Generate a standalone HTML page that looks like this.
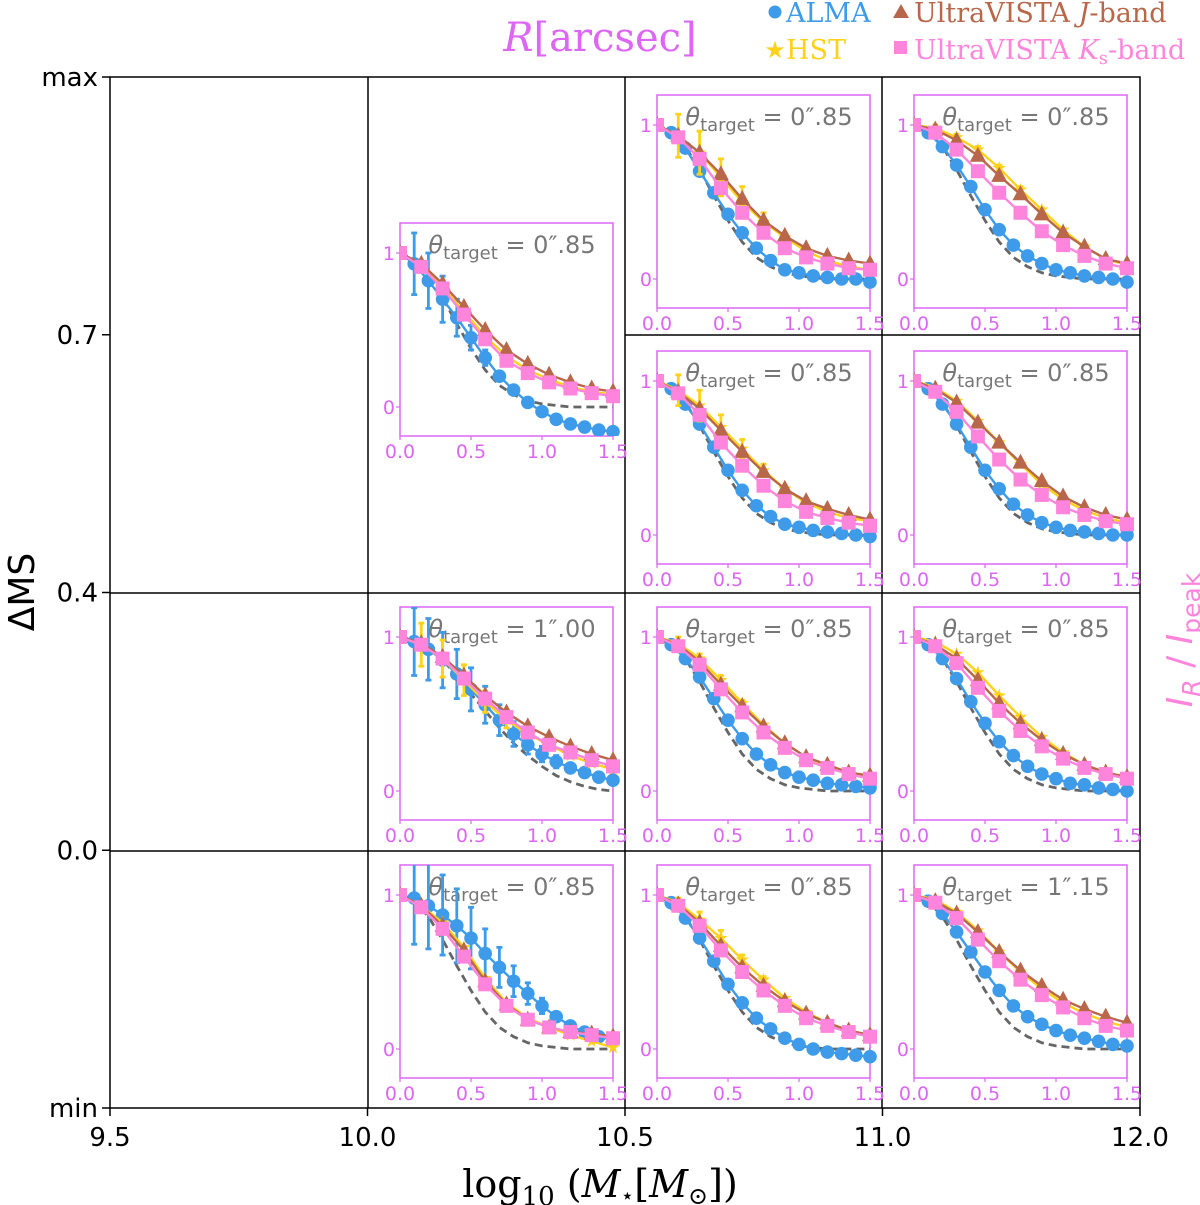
<!DOCTYPE html>
<html><head><meta charset="utf-8"><style>
html,body{margin:0;padding:0;background:#fff;}
svg{display:block;font-family:"DejaVu Sans","Liberation Sans",sans-serif;}
</style></head><body>
<svg id="chart" width="1200" height="1205" viewBox="0 0 1200 1205" xmlns="http://www.w3.org/2000/svg">
<g id="frame" stroke="#000" stroke-width="1.5" fill="none">
<rect x="110" y="77" width="1030" height="1031"/>
<line x1="368" y1="77" x2="368" y2="1108"/>
<line x1="625" y1="77" x2="625" y2="1108"/>
<line x1="882" y1="77" x2="882" y2="1108"/>
<line x1="625" y1="335" x2="1140" y2="335"/>
<line x1="110" y1="593" x2="1140" y2="593"/>
<line x1="110" y1="851" x2="1140" y2="851"/>
</g>
<g id="axes"></g>
<g id="insets"></g>
<text x="600" y="51" text-anchor="middle" font-family="DejaVu Serif, serif" font-size="40" fill="#dd66f5"><tspan font-style="italic">R</tspan>[arcsec]</text>
<g font-family="DejaVu Serif, serif" font-size="27">
<g><circle cx="775" cy="12" r="6.5" fill="#3d9be9"/><text x="786" y="22" fill="#3d9be9">ALMA</text></g>
<g><text x="775" y="58" text-anchor="middle" font-size="24" fill="#ffd21a">★</text><text x="786" y="59" fill="#ffd21a">HST</text></g>
<g><polygon points="901,4 909,18 893,18" fill="#b8674a"/><text x="914" y="22" fill="#b8674a">UltraVISTA <tspan font-style="italic">J</tspan>-band</text></g>
<g><rect x="894" y="41" width="13" height="13" fill="#ff85dc"/><text x="914" y="59" fill="#ff85dc">UltraVISTA <tspan font-style="italic">K</tspan><tspan font-size="18" dy="5">s</tspan><tspan dy="-5">-band</tspan></text></g>
</g>
<text transform="translate(34,592) rotate(-90)" text-anchor="middle" font-size="36" fill="#000">ΔMS</text>
<text x="600" y="1197" text-anchor="middle" font-family="DejaVu Serif, serif" font-size="38" fill="#000">log<tspan font-size="26" dy="8">10</tspan><tspan dy="-8"> (</tspan><tspan font-style="italic">M</tspan><tspan font-size="22" dy="6">⋆</tspan><tspan dy="-6">[</tspan><tspan font-style="italic">M</tspan><tspan font-size="24" dy="7">⊙</tspan><tspan dy="-7">])</tspan></text>
<text transform="translate(1192,640) rotate(-90)" text-anchor="middle" font-size="36" fill="#ff85dc"><tspan font-style="italic">I</tspan><tspan font-style="italic" font-size="25" dy="8">R</tspan><tspan dy="-8"> / </tspan><tspan font-style="italic">I</tspan><tspan font-size="25" dy="8">peak</tspan></text>
</svg>
<script>
var mainXTicks = ["9.5","10.0","10.5","11.0","12.0"];
var mainYTicks = ["max","0.7","0.4","0.0","min"];
var rAlma = [0,0.1,0.2,0.3,0.4,0.5,0.6,0.7,0.8,0.9,1.0,1.1,1.2,1.3,1.4,1.5];
var rOpt = [0,0.15,0.3,0.45,0.6,0.75,0.9,1.05,1.2,1.35,1.5];
var psf085 = [1,.96,.86,.71,.54,.38,.24,.14,.08,.04,.02,.01,0,0,0,0];
var psf100 = [1,.98,.93,.85,.75,.63,.52,.41,.31,.23,.16,.1,.06,.03,.01,0];
var panelLabels = ["0″.85","0″.85","0″.85","0″.85","0″.85","1″.00","0″.85","0″.85","0″.85","0″.85","1″.15"];
var panelLeft = [657,914,400,657,914,400,657,914,400,657,914];
var panelTop = [95,95,223,351,351,607,607,607,865,865,865];
var almaVals = [
[1,.95,.85,.70,.56,.42,.30,.20,.12,.06,.04,.02,.01,0,0,-.02],
[1,.95,.86,.74,.60,.45,.32,.22,.15,.10,.06,.04,.02,.01,0,-.02],
[1,.93,.82,.70,.58,.45,.32,.20,.11,.03,-.03,-.08,-.11,-.13,-.15,-.16],
[1,.95,.85,.72,.57,.42,.29,.19,.12,.07,.05,.03,.02,.01,0,-.01],
[1,.95,.85,.72,.57,.42,.30,.20,.13,.08,.05,.03,.02,.01,0,0],
[1,.97,.92,.85,.76,.66,.56,.46,.37,.30,.24,.19,.15,.12,.09,.07],
[1,.95,.86,.74,.60,.46,.34,.24,.17,.12,.09,.07,.05,.04,.03,.02],
[1,.95,.86,.73,.58,.44,.32,.23,.16,.11,.08,.05,.04,.02,.01,0],
[1,.98,.93,.87,.80,.72,.62,.53,.44,.36,.28,.21,.15,.11,.08,.06],
[1,.95,.85,.72,.57,.42,.30,.20,.13,.07,.03,0,-.02,-.03,-.04,-.05],
[1,.96,.88,.76,.63,.50,.38,.28,.21,.16,.12,.09,.07,.05,.03,.02]];
var almaErr = [null,null,
[0,.2,.18,.15,.12,.08,.05,.03,0,0,0,0,0,0,0,0],null,null,
[0,.22,.2,.18,.16,.14,.12,.1,.08,.06,.05,.04,0,0,0,0],null,null,
[0,.3,.28,.26,.24,.2,.16,.13,.1,.07,.05,.03,0,0,0,0],null,null];
var hstVals = [
[1,.93,.82,.66,.50,.37,.27,.18,.12,.08,.06],
[1,.98,.92,.84,.72,.58,.45,.32,.21,.13,.09],
[1,.92,.78,.62,.46,.33,.24,.18,.13,.10,.08],
[1,.94,.84,.70,.56,.42,.30,.21,.15,.11,.09],
[1,.96,.87,.74,.60,.46,.33,.23,.16,.11,.08],
[1,.95,.86,.72,.58,.46,.37,.30,.23,.18,.14],
[1,.96,.86,.72,.57,.43,.31,.22,.16,.12,.09],
[1,.97,.89,.77,.62,.48,.35,.25,.17,.12,.09],
[1,.93,.82,.66,.46,.30,.20,.14,.09,.05,.01],
[1,.95,.84,.72,.58,.45,.33,.24,.17,.12,.09],
[1,.97,.89,.77,.63,.50,.39,.30,.23,.18,.14]];
var hstErr = [[0,.14,.14,.12,.1,.06,.03,0,0,0,0],[0,.02,.02,.02,.02,.02,.01,0,0,0,0],null,[0,.1,.1,.08,.06,.04,.02,0,0,0,0],null,[0,.14,.12,.1,.07,.05,0,0,0,0,0],[0,.04,.03,.03,.02,0,0,0,0,0,0],null,null,[0,.03,.05,.05,.03,.02,0,0,0,0,0],null];
var jVals = [
[1,.93,.82,.68,.52,.38,.28,.20,.15,.12,.10],
[1,.97,.90,.80,.67,.55,.42,.30,.21,.13,.10],
[1,.93,.80,.65,.50,.37,.28,.21,.16,.12,.10],
[1,.93,.82,.68,.54,.41,.30,.22,.17,.13,.10],
[1,.95,.86,.73,.60,.47,.35,.25,.18,.13,.10],
[1,.96,.87,.75,.62,.51,.42,.35,.29,.24,.20],
[1,.95,.84,.69,.55,.42,.31,.22,.17,.12,.10],
[1,.95,.86,.72,.57,.44,.33,.24,.17,.12,.09],
[1,.93,.80,.64,.44,.29,.19,.14,.11,.10,.08],
[1,.94,.82,.67,.53,.41,.31,.23,.17,.12,.09],
[1,.96,.88,.76,.63,.51,.41,.32,.26,.21,.17]];
var ksVals = [
[1,.92,.78,.59,.43,.30,.20,.14,.10,.07,.06],
[1,.95,.84,.70,.56,.43,.31,.22,.15,.10,.07],
[1,.91,.77,.60,.44,.30,.22,.16,.12,.09,.07],
[1,.92,.78,.60,.45,.32,.22,.15,.11,.08,.06],
[1,.93,.80,.64,.49,.36,.26,.18,.13,.09,.07],
[1,.95,.86,.73,.60,.48,.38,.30,.25,.20,.16],
[1,.94,.82,.66,.51,.38,.28,.20,.15,.11,.08],
[1,.94,.83,.67,.52,.39,.29,.21,.15,.11,.08],
[1,.92,.78,.60,.42,.28,.19,.14,.11,.09,.07],
[1,.93,.80,.64,.50,.38,.28,.20,.15,.11,.08],
[1,.95,.85,.71,.57,.45,.35,.27,.20,.15,.12]];
var psfIndex = [0,0,0,0,0,1,0,0,0,0,0];
var psfs = [psf085, psf100];

var NS="http://www.w3.org/2000/svg";
function mk(tag, attrs, parent){var e=document.createElementNS(NS,tag);for(var k in attrs)e.setAttribute(k,attrs[k]);if(parent)parent.appendChild(e);return e;}
var ax=document.getElementById('axes');
var mx0=110,mx1=1140,my0=77,my1=1108;
function mainX(i){return mx0+(mx1-mx0)*i/(mainXTicks.length-1);}
function mainY(i){return my0+(my1-my0)*i/(mainYTicks.length-1);}
mainXTicks.forEach(function(t,i){
  var g=mk('g',{},ax);
  
  
  var x=mainX(i);
  mk('line',{x1:x,y1:my1,x2:x,y2:my1+8,stroke:'#000','stroke-width':1.5},g);
  var tx=mk('text',{x:x,y:my1+38,'text-anchor':'middle','font-size':26,fill:'#000'},g);tx.textContent=t;
});
mainYTicks.forEach(function(t,i){
  var g=mk('g',{},ax);
  
  
  var y=mainY(i);
  mk('line',{x1:mx0-8,y1:y,x2:mx0,y2:y,stroke:'#000','stroke-width':1.5},g);
  var tx=mk('text',{x:mx0-12,y:y+9,'text-anchor':'end','font-size':26,fill:'#000'},g);tx.textContent=t;
});
var ins=document.getElementById('insets');
var W=213,H=213,VIO='#dd66f5';
function drawSeries(g,xs,ys,err,color,marker,sx,sy,name){
  var s=mk('g',{},g);
  
  
  var d='';
  xs.forEach(function(r,i){d+=(i?'L':'M')+sx(r).toFixed(1)+','+sy(ys[i]).toFixed(1);});
  mk('path',{d:d,fill:'none',stroke:color,'stroke-width':2.4},s);
  if(err){xs.forEach(function(r,i){if(err[i]>0){var x=sx(r),y1=sy(ys[i]-err[i]),y2=sy(ys[i]+err[i]);
    mk('line',{x1:x,y1:y1,x2:x,y2:y2,stroke:color,'stroke-width':2.8},s);
    mk('line',{x1:x-3,y1:y1,x2:x+3,y2:y1,stroke:color,'stroke-width':2.8},s);
    mk('line',{x1:x-3,y1:y2,x2:x+3,y2:y2,stroke:color,'stroke-width':2.8},s);}});}
  xs.forEach(function(r,i){var x=sx(r),y=sy(ys[i]);
    if(marker==='c')mk('circle',{cx:x,cy:y,r:6.8,fill:color},s);
    else if(marker==='s')mk('rect',{x:x-7,y:y-7,width:14,height:14,fill:color},s);
    else if(marker==='t')mk('polygon',{points:(x)+','+(y-9)+' '+(x+8)+','+(y+6)+' '+(x-8)+','+(y+6),fill:color},s);
    else if(marker==='*'){var p='';for(var k=0;k<10;k++){var a=-Math.PI/2+k*Math.PI/5,rr=k%2?2.8:7;p+=(x+rr*Math.cos(a)).toFixed(1)+','+(y+rr*Math.sin(a)).toFixed(1)+' ';}mk('polygon',{points:p,fill:color},s);}
  });
}
panelLeft.forEach(function(L,p){
  var T=panelTop[p];
  var g=mk('g',{},ins);
  
  
  var sx=function(r){return L+r/1.5*W;};
  var sy=function(v){return T+184-v*154;};
  mk('rect',{x:L,y:T,width:W,height:H,fill:'#fff',stroke:VIO,'stroke-width':1.5},g);
  ['0.0','0.5','1.0','1.5'].forEach(function(t,i){
    var x=sx(i*0.5);
    mk('line',{x1:x,y1:T+H,x2:x,y2:T+H+4,stroke:VIO,'stroke-width':1.2},g);
    var tx=mk('text',{x:x,y:T+H+22,'text-anchor':'middle','font-size':19,fill:VIO},g);tx.textContent=t;
  });
  [0,1].forEach(function(v){
    var y=sy(v);
    mk('line',{x1:L-4,y1:y,x2:L,y2:y,stroke:VIO,'stroke-width':1.2},g);
    var tx=mk('text',{x:L-5,y:y+7,'text-anchor':'end','font-size':19,fill:VIO},g);tx.textContent=String(v);
  });
  var lab=mk('text',{x:L+112,y:T+30,'text-anchor':'middle','font-size':24,fill:'#777'},g);
  
  
  lab.innerHTML='<tspan font-style="italic">θ</tspan><tspan font-size="18" dy="6">target</tspan><tspan dy="-6"> = '+panelLabels[p]+'</tspan>';
  var clip=mk('clipPath',{id:'clip'+p},g);mk('rect',{x:L,y:T,width:W+7,height:H},clip);
  var cg=mk('g',{'clip-path':'url(#clip'+p+')'},g);
  var psf=psfs[psfIndex[p]],pd='';
  rAlma.forEach(function(r,i){pd+=(i?'L':'M')+sx(r).toFixed(1)+','+sy(psf[i]).toFixed(1);});
  var pp=mk('path',{d:pd,fill:'none',stroke:'#666','stroke-width':2.8,'stroke-dasharray':'8,5'},cg);
  
  
  drawSeries(cg,rAlma,almaVals[p],almaErr[p],'#3d9be9','c',sx,sy,'series-alma');
  drawSeries(cg,rOpt,hstVals[p],hstErr[p],'#ffd21a','*',sx,sy,'series-hst');
  drawSeries(cg,rOpt,jVals[p],null,'#b8674a','t',sx,sy,'series-jband');
  drawSeries(cg,rOpt,ksVals[p],null,'#ff85dc','s',sx,sy,'series-ksband');
});
</script>
</body></html>
